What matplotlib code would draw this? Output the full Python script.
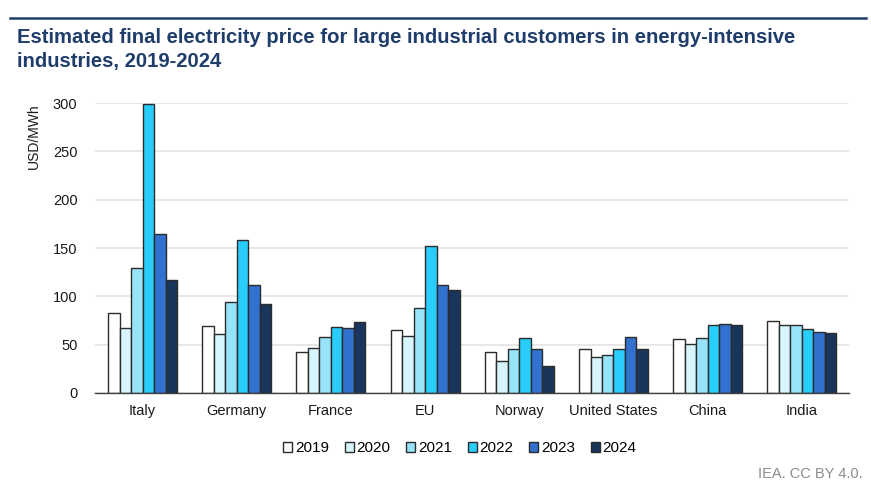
import numpy as np
import matplotlib.pyplot as plt
from matplotlib.lines import Line2D

plt.rcParams['font.family'] = ['Liberation Sans', 'DejaVu Sans']

# Data (USD/MWh)
countries = ['Italy', 'Germany', 'France', 'EU', 'Norway', 'United States', 'China', 'India']
years = ['2019', '2020', '2021', '2022', '2023', '2024']
p2019 = [83, 69, 42, 65, 42, 45, 56, 74]
p2020 = [67, 61, 47, 59, 33, 37, 51, 70]
p2021 = [129, 94, 58, 88, 45, 39, 57, 70]
p2022 = [299, 158, 68, 152, 57, 46, 70, 66]
p2023 = [165, 112, 67, 112, 46, 58, 71, 63]
p2024 = [117, 92, 73, 107, 28, 45, 70, 62]
series = [p2019, p2020, p2021, p2022, p2023, p2024]

colors = ['#FFFFFF', '#D6F5FD', '#97E4FA', '#29CDFB', '#3171CF', '#1A355C']
title_col = '#1F3D6B'

fig = plt.figure(figsize=(8.71, 4.91), dpi=100)
ax = fig.add_axes([0.1096, 0.1996, 0.8651, 0.5906])

x = np.arange(len(countries))
w = 0.122
for i, vals in enumerate(series):
    ax.bar(x + (i - 2.5) * w, vals, width=w, color=colors[i], edgecolor='#2b2b2b',
           linewidth=1.0, zorder=3, label=years[i])

ax.set_xlim(-0.5, len(countries) - 0.5)
ax.set_ylim(0, 300)
ax.set_yticks(range(0, 301, 50))
ax.yaxis.grid(True, color='#E3E3E3', linewidth=1.2, zorder=0)
for s in ['top', 'right', 'left']:
    ax.spines[s].set_visible(False)
ax.spines['bottom'].set_color('#404040')
ax.spines['bottom'].set_linewidth(1.0)
ax.spines['bottom'].set_zorder(4)
ax.tick_params(axis='both', length=0, labelsize=10.5, colors='#1a1a1a')
ax.tick_params(axis='y', pad=13)
ax.tick_params(axis='x', pad=8)
ax.set_xticks(x)
ax.set_xticklabels(countries)

ax.text(-0.082, 1.0, 'USD/MWh', transform=ax.transAxes, rotation=90,
        ha='center', va='top', fontsize=10, color='#1a1a1a')

# title and top rule
fig.add_artist(Line2D([0.012, 0.994], [0.963, 0.963], color=title_col, linewidth=1.8))
fig.text(0.02, 0.942, 'Estimated final electricity price for large industrial customers in energy-intensive\nindustries, 2019-2024',
         ha='left', va='top', fontsize=14.6, fontweight='bold', color=title_col, linespacing=1.32)

handles, labels = ax.get_legend_handles_labels()
fig.legend(handles, labels, loc='center', bbox_to_anchor=(0.528, 0.087), ncol=6, frameon=False,
           fontsize=11, handlelength=0.6, handleheight=0.6, handletextpad=0.2, columnspacing=1.0)

fig.text(0.99, 0.02, 'IEA. CC BY 4.0.', ha='right', va='bottom', fontsize=10.5, color='#8c8c8c')

fig.savefig('out.png', dpi=100)
